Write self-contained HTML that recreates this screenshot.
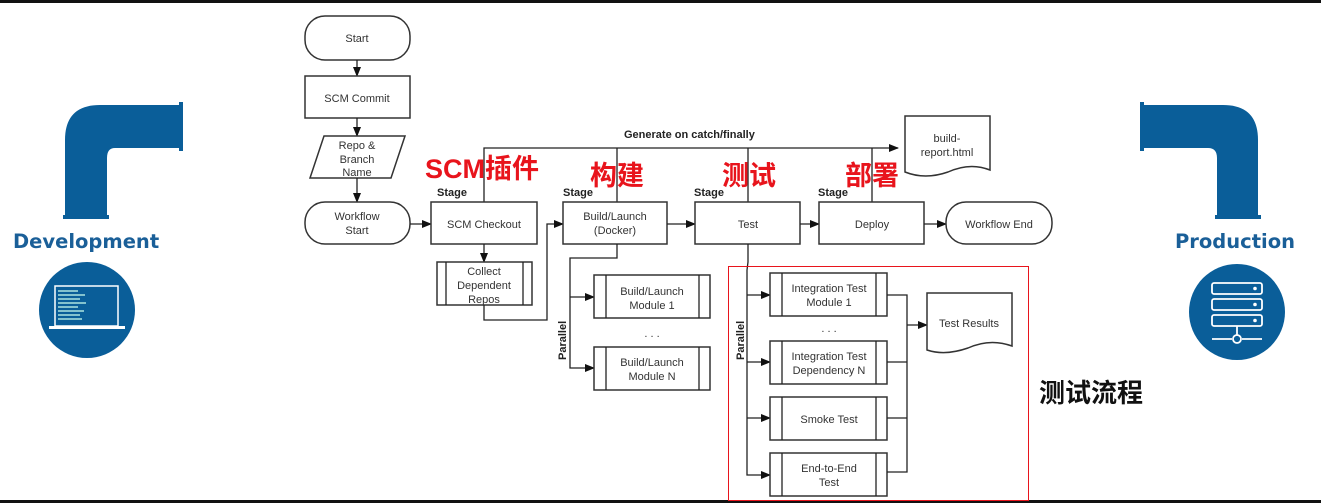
<!DOCTYPE html>
<html><head><meta charset="utf-8"><style>
html,body{margin:0;padding:0;background:#fff;}
svg{display:block;}
.t{font-family:"Liberation Sans",sans-serif;font-size:11px;fill:#333;text-anchor:middle;}
.b{font-family:"Liberation Sans",sans-serif;font-size:11px;font-weight:bold;fill:#222;}
.r{font-family:"Liberation Sans","Noto Sans CJK SC",sans-serif;font-size:27px;font-weight:bold;fill:#e8141c;}
.bx{fill:#fff;stroke:#333;stroke-width:1.5;}
.ln{fill:none;stroke:#222;stroke-width:1.3;}
.bl{font-family:"DejaVu Sans",sans-serif;font-size:19.5px;font-weight:bold;fill:#1a5f98;}
</style></head><body>
<svg width="1321" height="503" viewBox="0 0 1321 503" xmlns="http://www.w3.org/2000/svg">
<defs><marker id="a" markerWidth="10" markerHeight="8" refX="9" refY="4" orient="auto" markerUnits="userSpaceOnUse"><path d="M0,0 L10,4 L0,8 z" fill="#111"/></marker></defs>
<rect x="0" y="0" width="1321" height="3" fill="#111"/>
<rect x="0" y="500" width="1321" height="3" fill="#111"/>

<!-- left pipe -->
<path d="M65,218 V140 Q65,105 100,105 H182 V148 H115 Q107,148 107,158 V218 Z" fill="#0a5e99"/>
<rect x="179" y="102" width="4" height="49" fill="#0a5e99"/>
<rect x="63" y="215" width="46" height="4" fill="#0a5e99"/>
<text x="13" y="248" class="bl">Development</text>
<circle cx="87" cy="310" r="48" fill="#0a5e99"/>
<rect x="55" y="286" width="63" height="40" fill="none" stroke="#fff" stroke-width="1.5"/>
<rect x="49" y="326" width="76" height="3" fill="#fff"/>
<g stroke="#cfe" stroke-width="1.2"><line x1="58" y1="291" x2="78" y2="291"/><line x1="58" y1="295" x2="85" y2="295"/><line x1="58" y1="299" x2="80" y2="299"/><line x1="58" y1="303" x2="86" y2="303"/><line x1="58" y1="307" x2="78" y2="307"/><line x1="58" y1="311" x2="84" y2="311"/><line x1="58" y1="315" x2="80" y2="315"/><line x1="58" y1="319" x2="82" y2="319"/></g>

<!-- right pipe -->
<path d="M1258,218 V140 Q1258,105 1223,105 H1141 V148 H1208 Q1217,148 1217,158 V218 Z" fill="#0a5e99"/>
<rect x="1140" y="102" width="4" height="49" fill="#0a5e99"/>
<rect x="1215" y="215" width="46" height="4" fill="#0a5e99"/>
<text x="1175" y="248" class="bl">Production</text>
<circle cx="1237" cy="312" r="48" fill="#0a5e99"/>
<g fill="none" stroke="#fff" stroke-width="1.8"><rect x="1212" y="283" width="50" height="11" rx="2"/><rect x="1212" y="299" width="50" height="11" rx="2"/><rect x="1212" y="315" width="50" height="11" rx="2"/><line x1="1237" y1="326" x2="1237" y2="335"/><line x1="1212" y1="339" x2="1232" y2="339"/><line x1="1242" y1="339" x2="1262" y2="339"/><circle cx="1237" cy="339" r="4"/></g>
<g fill="#fff"><circle cx="1255" cy="288.5" r="1.8"/><circle cx="1255" cy="304.5" r="1.8"/><circle cx="1255" cy="320.5" r="1.8"/></g>

<!-- flowchart -->
<rect x="305" y="16" width="105" height="44" rx="20" class="bx"/><text x="357" y="42" class="t">Start</text>
<line x1="357" y1="60" x2="357" y2="76" class="ln" marker-end="url(#a)"/>
<rect x="305" y="76" width="105" height="42" class="bx"/><text x="357" y="102" class="t">SCM Commit</text>
<line x1="357" y1="118" x2="357" y2="136" class="ln" marker-end="url(#a)"/>
<path d="M324,136 H405 L391,178 H310 Z" class="bx"/>
<text x="357" y="149" class="t">Repo &amp;</text><text x="357" y="163" class="t">Branch</text><text x="357" y="176" class="t">Name</text>
<line x1="357" y1="178" x2="357" y2="202" class="ln" marker-end="url(#a)"/>
<rect x="305" y="202" width="105" height="42" rx="20" class="bx"/><text x="357" y="220" class="t">Workflow</text><text x="357" y="234" class="t">Start</text>
<line x1="410" y1="224" x2="431" y2="224" class="ln" marker-end="url(#a)"/>

<!-- generate line -->
<path d="M484,202 V148 H898" class="ln" marker-end="url(#a)"/>
<line x1="617" y1="148" x2="617" y2="202" class="ln"/>
<line x1="748" y1="148" x2="748" y2="202" class="ln"/>
<line x1="872" y1="148" x2="872" y2="202" class="ln"/>
<text x="624" y="138" class="b">Generate on catch/finally</text>
<path d="M905,116 H990 V170 Q970,162 948,172 Q925,180 905,172 Z" class="bx"/>
<text x="947" y="142" class="t">build-</text><text x="947" y="156" class="t">report.html</text>

<text x="437" y="196" class="b">Stage</text>
<rect x="431" y="202" width="106" height="42" class="bx"/><text x="484" y="228" class="t">SCM Checkout</text>
<line x1="484" y1="244" x2="484" y2="262" class="ln" marker-end="url(#a)"/>
<rect x="437" y="262" width="95" height="43" class="bx"/><line x1="446" y1="262" x2="446" y2="305" class="ln"/><line x1="523" y1="262" x2="523" y2="305" class="ln"/>
<text x="484" y="275" class="t">Collect</text><text x="484" y="289" class="t">Dependent</text><text x="484" y="303" class="t">Repos</text>
<path d="M484,305 V320 H547 V224 H563" class="ln" marker-end="url(#a)"/>

<text x="563" y="196" class="b">Stage</text>
<rect x="563" y="202" width="104" height="42" class="bx"/><text x="615" y="220" class="t">Build/Launch</text><text x="615" y="234" class="t">(Docker)</text>
<line x1="667" y1="224" x2="695" y2="224" class="ln" marker-end="url(#a)"/>
<path d="M617,244 V258 H570 V368 H594" class="ln" marker-end="url(#a)"/>
<line x1="570" y1="297" x2="594" y2="297" class="ln" marker-end="url(#a)"/>
<text transform="translate(566,360) rotate(-90)" class="b">Parallel</text>
<rect x="594" y="275" width="116" height="43" class="bx"/><line x1="606" y1="275" x2="606" y2="318" class="ln"/><line x1="699" y1="275" x2="699" y2="318" class="ln"/>
<text x="652" y="295" class="t">Build/Launch</text><text x="652" y="309" class="t">Module 1</text>
<text x="652" y="337" class="t">. . .</text>
<rect x="594" y="347" width="116" height="43" class="bx"/><line x1="606" y1="347" x2="606" y2="390" class="ln"/><line x1="699" y1="347" x2="699" y2="390" class="ln"/>
<text x="652" y="366" class="t">Build/Launch</text><text x="652" y="380" class="t">Module N</text>

<text x="694" y="196" class="b">Stage</text>
<rect x="695" y="202" width="105" height="42" class="bx"/><text x="748" y="228" class="t">Test</text>
<line x1="800" y1="224" x2="819" y2="224" class="ln" marker-end="url(#a)"/>
<text x="818" y="196" class="b">Stage</text>
<rect x="819" y="202" width="105" height="42" class="bx"/><text x="872" y="228" class="t">Deploy</text>
<line x1="924" y1="224" x2="946" y2="224" class="ln" marker-end="url(#a)"/>
<rect x="946" y="202" width="106" height="42" rx="20" class="bx"/><text x="999" y="228" class="t">Workflow End</text>

<!-- test parallel -->
<path d="M748,244 V262 L747,270 V475 H770" class="ln" marker-end="url(#a)"/>
<line x1="747" y1="295" x2="770" y2="295" class="ln" marker-end="url(#a)"/>
<line x1="747" y1="362" x2="770" y2="362" class="ln" marker-end="url(#a)"/>
<line x1="747" y1="418" x2="770" y2="418" class="ln" marker-end="url(#a)"/>
<text transform="translate(744,360) rotate(-90)" class="b">Parallel</text>
<g>
<rect x="770" y="273" width="117" height="43" class="bx"/><line x1="782" y1="273" x2="782" y2="316" class="ln"/><line x1="876" y1="273" x2="876" y2="316" class="ln"/>
<text x="829" y="292" class="t">Integration Test</text><text x="829" y="306" class="t">Module 1</text>
<text x="829" y="332" class="t">. . .</text>
<rect x="770" y="341" width="117" height="43" class="bx"/><line x1="782" y1="341" x2="782" y2="384" class="ln"/><line x1="876" y1="341" x2="876" y2="384" class="ln"/>
<text x="829" y="360" class="t">Integration Test</text><text x="829" y="374" class="t">Dependency N</text>
<rect x="770" y="397" width="117" height="43" class="bx"/><line x1="782" y1="397" x2="782" y2="440" class="ln"/><line x1="876" y1="397" x2="876" y2="440" class="ln"/>
<text x="829" y="423" class="t">Smoke Test</text>
<rect x="770" y="453" width="117" height="43" class="bx"/><line x1="782" y1="453" x2="782" y2="496" class="ln"/><line x1="876" y1="453" x2="876" y2="496" class="ln"/>
<text x="829" y="472" class="t">End-to-End</text><text x="829" y="486" class="t">Test</text>
</g>
<path d="M887,295 H907 V472 H887" class="ln"/>
<line x1="887" y1="362" x2="907" y2="362" class="ln"/>
<line x1="887" y1="418" x2="907" y2="418" class="ln"/>
<line x1="907" y1="325" x2="927" y2="325" class="ln" marker-end="url(#a)"/>
<path d="M927,293 H1012 V346 Q990,338 968,348 Q945,356 927,350 Z" class="bx"/>
<text x="969" y="327" class="t">Test Results</text>

<rect x="728.5" y="266.5" width="300" height="234" fill="none" stroke="#e8141c" stroke-width="1"/>
<text x="1039" y="402" style="font-family:'Noto Sans CJK SC',sans-serif;font-size:26px;font-weight:bold;fill:#111">测试流程</text>

<text x="425" y="178" class="r">SCM插件</text>
<text x="590" y="185" class="r">构建</text>
<text x="722" y="185" class="r">测试</text>
<text x="845" y="185" class="r">部署</text>
</svg>
</body></html>
